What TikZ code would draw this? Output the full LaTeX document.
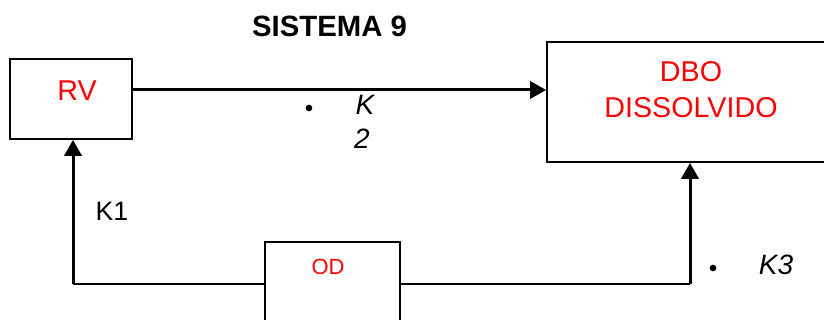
\documentclass[tikz,border=0pt]{standalone}
\usepackage{fontspec}
\setmainfont{Liberation Sans}
\usepackage{xcolor}
\usetikzlibrary{arrows.meta, positioning}
\definecolor{boxline}{HTML}{000000}
\definecolor{namered}{HTML}{FF0000}
\tikzset{
  box/.style     = {draw=boxline, line width=1.4pt, inner sep=0pt},
  nametxt/.style = {text=namered, inner sep=0pt, align=center,
                    font=\fontsize{21.5}{27}\selectfont},
  ktxt/.style    = {inner sep=0pt, font=\fontsize{21}{25}\selectfont\itshape},
  dot/.style     = {circle, fill=boxline, inner sep=0pt, minimum size=5pt},
  flow/.style    = {-{Triangle[length=12pt, width=13pt]}, draw=boxline, line width=2.25pt},
  feed/.style    = {draw=boxline, line width=1.2pt}
}

\begin{document}
\begin{tikzpicture}[x=0.75pt, y=-0.75pt]
  \useasboundingbox (0,0) rectangle (824,320);
  % title
  \node[inner sep=0pt, font=\fontsize{22}{26}\selectfont\bfseries] (title)
       at (329.5,26) {SISTEMA 9};
  % boxes
  \node[box, minimum width=91.5pt, minimum height=60pt] (rv) at (71,99) {};
  \node[nametxt] (rvtxt) at (77,91) {RV};
  \node[box, minimum width=216pt, minimum height=90pt] (dbo) at (691,102) {};
  \node[nametxt] (dbotxt) at (691,90) {DBO\\DISSOLVIDO};
  \node[box, minimum width=101.25pt, minimum height=63pt] (od) at (332.5,284) {};
  \node[nametxt, font=\fontsize{16.5}{20}\selectfont] (odtxt) at (328,267) {OD};
  % RV -> DBO
  \draw[flow] ([yshift=6.75pt]rv.east) -- ([yshift=6.75pt]rv.east -| dbo.west);
  \node[dot] (kdot) at (309,108) {};
  \node[ktxt] (ktop) at (365,104.5) {K};
  \node[ktxt] (kidx) at (362,139) {2};
  % OD -> RV
  \coordinate (k1corner) at (73,284);
  \draw[feed] (od.west) -- (k1corner);
  \draw[flow] (k1corner) -- (k1corner |- rv.south);
  \node[inner sep=0pt, font=\fontsize{20}{24}\selectfont] (kone) at (112,211.5) {K1};
  % OD -> DBO
  \coordinate (k3corner) at (690,284);
  \draw[feed] (od.east) -- (k3corner);
  \draw[flow] (k3corner) -- (k3corner |- dbo.south);
  \node[dot] (k3dot) at (713,268) {};
  \node[ktxt] (kthree) at (776,264.5) {K3};
\end{tikzpicture}
\end{document}
